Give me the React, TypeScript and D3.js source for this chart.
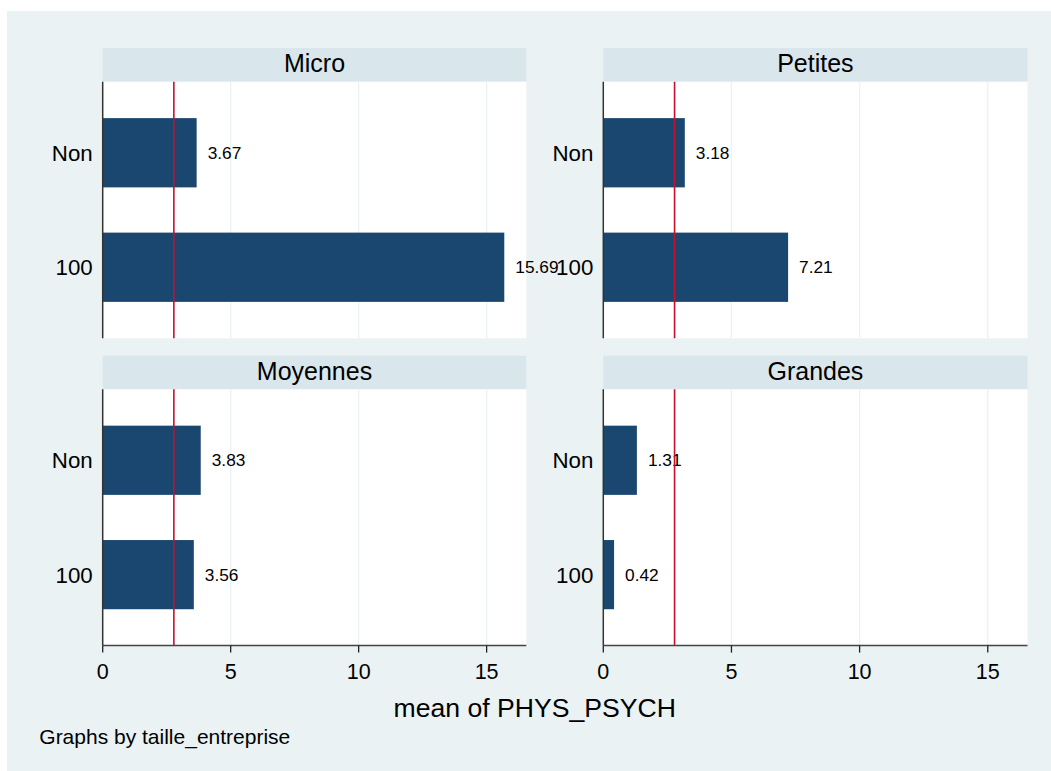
import React from "react";
import * as d3 from "d3";

const panels = ["Micro", "Petites", "Moyennes", "Grandes"];
const categories = ["Non", "100"];
const nonValues = [3.67, 3.18, 3.83, 1.31];
const centValues = [15.69, 7.21, 3.56, 0.42];
const xTicks = [0, 5, 10, 15];
const refValue = 2.78;
const xMax = 16.55;
const xTitle = "mean of PHYS_PSYCH";
const note = "Graphs by taille_entreprise";

const W = 1051;
const H = 771;
const FONT = "'Liberation Sans', Arial, Helvetica, sans-serif";
const BG = "#EAF2F3";
const HEAD = "#D9E6EB";
const BAR = "#1A476F";
const REF = "#C8102E";

const colX = [[102.7, 526.3], [603.3, 1027.5]];
const rowY = [
  { h0: 48, h1: 81.7, p1: 338.3 },
  { h0: 355.7, h1: 389.3, p1: 645.6 },
];

function Panel({ idx }: { idx: number }) {
  const col = idx % 2;
  const row = Math.floor(idx / 2);
  const [x0, x1] = colX[col];
  const { h0, h1, p1 } = rowY[row];
  const x = d3.scaleLinear().domain([0, xMax]).range([x0, x1]);
  const y = d3
    .scaleBand<string>()
    .domain(categories)
    .range([h1, p1])
    .paddingInner(0.395)
    .paddingOuter(0.318);
  const vals = [nonValues[idx], centValues[idx]];
  const isBottom = row === 1;
  return (
    <g>
      <rect x={x0} y={h0} width={x1 - x0} height={h1 - h0} fill={HEAD} />
      <text
        x={(x0 + x1) / 2}
        y={h0 + 24}
        textAnchor="middle"
        fontSize={25}
        fontFamily={FONT}
        fill="#000"
      >
        {panels[idx]}
      </text>
      <rect x={x0} y={h1} width={x1 - x0} height={p1 - h1} fill="#fff" />
      {xTicks.slice(1).map((t) => (
        <line key={t} x1={x(t)} x2={x(t)} y1={h1} y2={p1} stroke={BG} strokeWidth={1.3} />
      ))}
      {categories.map((c, i) => (
        <g key={c}>
          <rect
            x={x(0)}
            y={y(c)!}
            width={x(vals[i]) - x(0)}
            height={y.bandwidth()}
            fill={BAR}
          />
          <text
            x={x(vals[i]) + 11}
            y={y(c)! + y.bandwidth() / 2 + 6}
            fontSize={17.3}
            fontFamily={FONT}
            fill="#000"
          >
            {vals[i].toFixed(2)}
          </text>
          <text
            x={x0 - 10}
            y={y(c)! + y.bandwidth() / 2 + 8}
            textAnchor="end"
            fontSize={22.3}
            fontFamily={FONT}
            fill="#000"
          >
            {c}
          </text>
        </g>
      ))}
      <line x1={x(refValue)} x2={x(refValue)} y1={h1} y2={p1} stroke={REF} strokeWidth={1.6} />
      <line x1={x0} x2={x0} y1={h1} y2={p1} stroke="#333" strokeWidth={1.5} />
      {isBottom && (
        <g>
          <line x1={x0} x2={x1} y1={p1} y2={p1} stroke="#444" strokeWidth={1.5} />
          {xTicks.map((t) => (
            <g key={t}>
              <line x1={x(t)} x2={x(t)} y1={p1} y2={p1 + 7} stroke="#222" strokeWidth={1.3} />
              <text
                x={x(t)}
                y={679}
                textAnchor="middle"
                fontSize={21.5}
                fontFamily={FONT}
                fill="#000"
              >
                {t}
              </text>
            </g>
          ))}
        </g>
      )}
    </g>
  );
}

export default function App() {
  return (
    <svg
      width={W}
      height={H}
      style={{ position: "absolute", left: 0, top: 0, display: "block" }}
    >
      <rect x={0} y={0} width={W} height={H} fill="#fff" />
      <rect x={7} y={11} width={W - 7} height={H - 11} fill={BG} />
      {panels.map((p, i) => (
        <Panel key={p} idx={i} />
      ))}
      <text x={534.7} y={716.5} textAnchor="middle" fontSize={26.6} fontFamily={FONT} fill="#000">
        {xTitle}
      </text>
      <text x={39.3} y={744} fontSize={21} fontFamily={FONT} fill="#000">
        {note}
      </text>
    </svg>
  );
}
